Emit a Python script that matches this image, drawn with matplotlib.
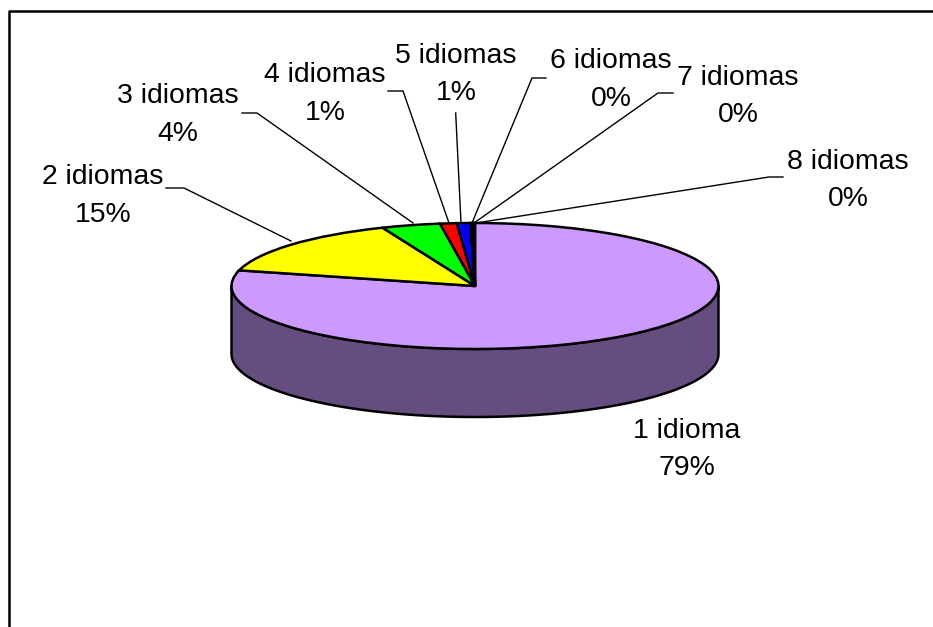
import numpy as np
import matplotlib
matplotlib.use("Agg")
import matplotlib.pyplot as plt
from matplotlib.patches import Polygon

categories = ["1 idioma", "2 idiomas", "3 idiomas", "4 idiomas", "5 idiomas", "6 idiomas", "7 idiomas", "8 idiomas"]
values = [79.0, 14.8, 3.9, 1.1, 0.9, 0.15, 0.1, 0.05]
percent_labels = ["79%", "15%", "4%", "1%", "1%", "0%", "0%", "0%"]
colors = ["#CC99FF", "#FFFF00", "#00FF00", "#FF0000", "#0000FF", "#FF99CC", "#000000", "#FFFFFF"]

W, H = 933, 627
CX, CY, RX, RY, DEPTH = 475, 286, 243.5, 63, 68

plt.rcParams['font.family'] = ['Liberation Sans', 'DejaVu Sans']
fig = plt.figure(figsize=(W / 100, H / 100), dpi=100, facecolor="white")
ax = fig.add_axes([0, 0, 1, 1])

# Pie is drawn in unit-circle coordinates, flattened by the axis limits
pie_x = lambda px: (px - CX) / RX
pie_y = lambda py: (CY - py) / RY

# side wall of the cylinder
t = np.linspace(np.pi, 2 * np.pi, 200)
wall_top = np.column_stack([np.cos(t), np.sin(t)])
wall_bot = np.column_stack([np.cos(t[::-1]), np.sin(t[::-1]) - DEPTH / RY])
ax.add_patch(Polygon(np.vstack([wall_top, wall_bot]), closed=True, facecolor="#664D80",
                     edgecolor="black", linewidth=1.8, joinstyle="round"))

ax.pie(values, colors=colors, startangle=90, counterclock=False, radius=1, center=(0, 0),
       wedgeprops=dict(edgecolor="black", linewidth=1.8), frame=False)
ax.set_aspect("auto")
ax.set_xlim(pie_x(0), pie_x(W))
ax.set_ylim(pie_y(H), pie_y(0))
ax.axis("off")

# label centres and leader lines, in pixels
label_pos = [(687, 449.5), (103, 196), (178, 115), (325, 94), (456, 74.5), (611, 80), (738, 96.5), (848, 180.5)]
leaders = [
    None,
    [(166, 188), (184, 188), (291, 241)],
    [(242, 113), (257, 113), (413, 223)],
    [(388, 91), (403, 91), (449, 223)],
    [(455.7, 113), (461, 223)],
    [(546, 78), (532, 78), (472, 223)],
    [(673, 93), (658, 93), (474, 223)],
    [(783, 177), (769, 177), (476, 223)],
]
for cat, pct, (lx, ly), leader in zip(categories, percent_labels, label_pos, leaders):
    ax.text(pie_x(lx), pie_y(ly), f"{cat}\n{pct}", ha="center", va="center", multialignment="center",
            fontsize=20.4, color="black", linespacing=1.59)
    if leader:
        pts = np.array(leader, dtype=float)
        ax.plot(pie_x(pts[:, 0]), pie_y(pts[:, 1]), color="black", linewidth=1.0)

# outer chart frame
fx = [pie_x(8.5), pie_x(8.5), pie_x(933)]
fy = [pie_y(627), pie_y(11), pie_y(11)]
ax.plot(fx, fy, color="black", linewidth=1.8, clip_on=False)

fig.savefig("out.png", dpi=100, facecolor="white")
